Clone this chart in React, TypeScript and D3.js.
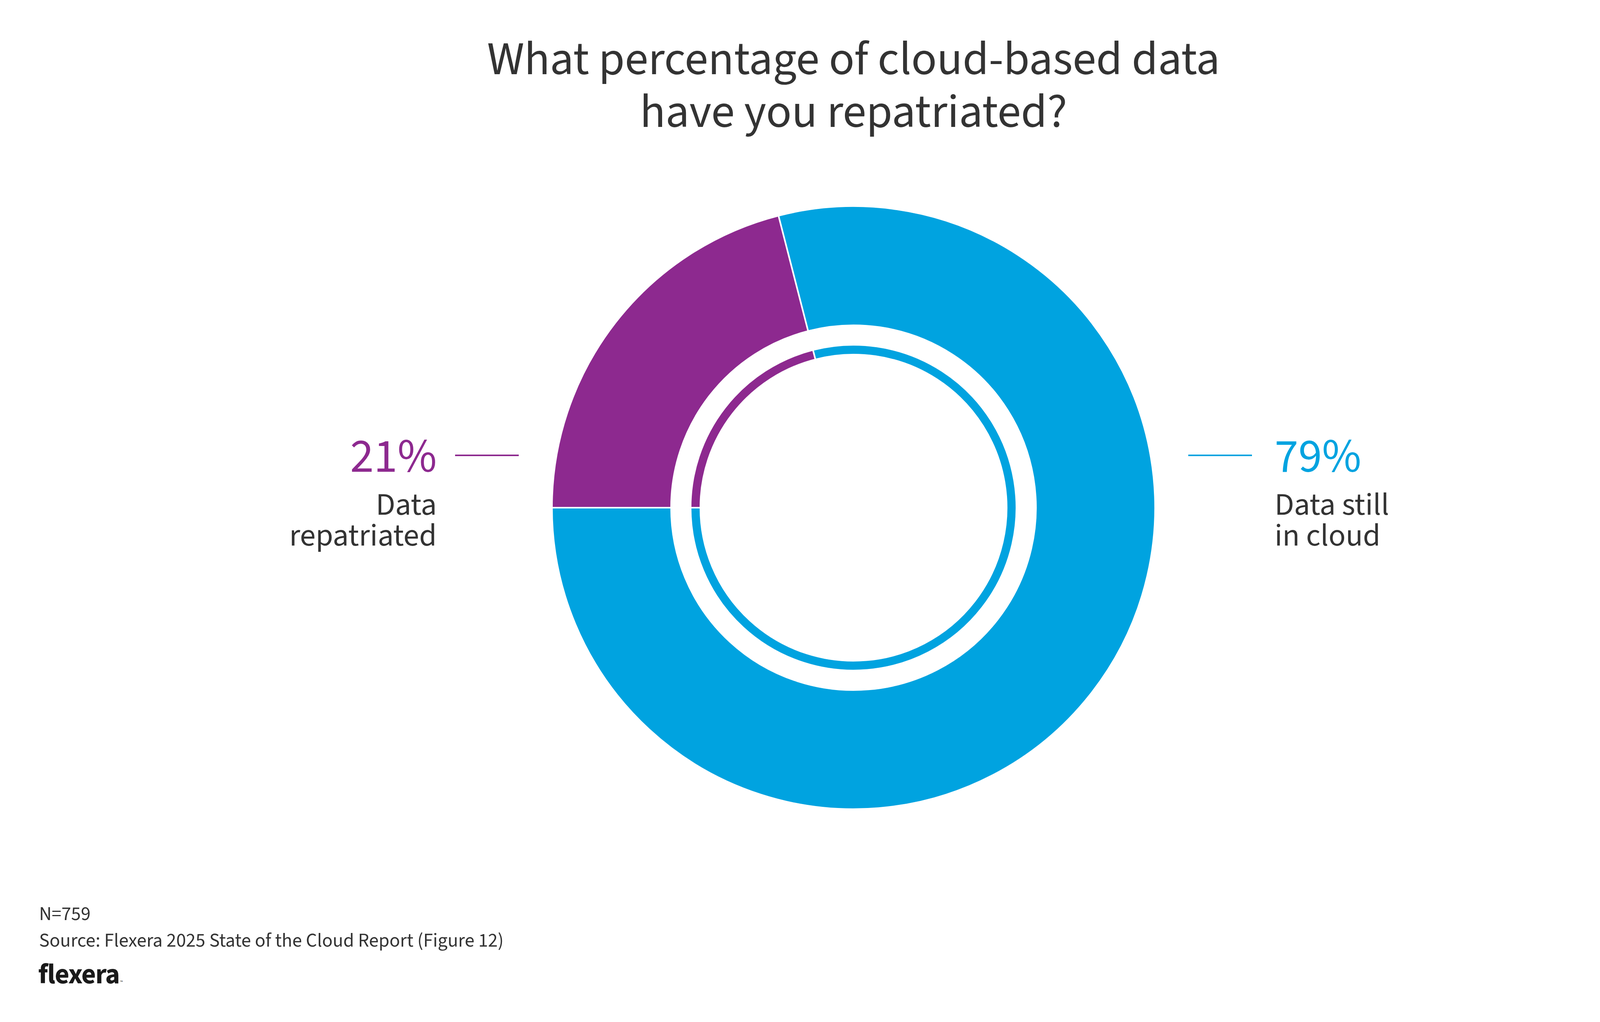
import * as d3 from 'd3';
import { useEffect, useRef } from 'react';

const categories = ['Data repatriated', 'Data still in cloud'];
const values = [21, 79];
const labelLines = [['Data', 'repatriated'], ['Data still', 'in cloud']];
const colors = ['#8D298F', '#00A3E0'];
const titleLines = ['What percentage of cloud-based data', 'have you repatriated?'];
const footnotes = ['N=759', 'Source: Flexera 2025 State of the Cloud Report (Figure 12)'];

interface Slice {
    name: string;
    value: number;
    lines: string[];
    color: string;
}

const App: React.FC = () => {
    const container = useRef<HTMLDivElement | null>(null);

    useEffect(() => {
        if (!container.current) return;

        const width = 4318;
        const height = 2617;
        const cx = 2185;
        const cy = 1300;
        const R = 772;
        const font = "'Source Sans Pro', 'Source Sans 3', Lato, sans-serif";
        const textColor = '#333333';

        const data: Slice[] = categories.map((name, i) => ({
            name,
            value: values[i],
            lines: labelLines[i],
            color: colors[i]
        }));

        d3.select(container.current).selectAll('*').remove();

        const svg = d3.select(container.current).append('svg')
            .attr('width', width)
            .attr('height', height)
            .style('position', 'absolute')
            .style('top', 0)
            .style('left', 0)
            .style('background', '#fff');

        // title
        svg.append('g').selectAll('text')
            .data(titleLines)
            .enter().append('text')
            .attr('x', cx)
            .attr('y', (_d, i) => 190 + i * 135)
            .attr('text-anchor', 'middle')
            .attr('font-family', font)
            .attr('font-size', 121)
            .attr('fill', textColor)
            .text(d => d);

        const pie = d3.pie<Slice>()
            .sort(null)
            .value(d => d.value)
            .startAngle(-Math.PI / 2)
            .endAngle(Math.PI * 1.5);

        const arcs = pie(data);

        const outerArc = d3.arc<d3.PieArcDatum<Slice>>()
            .innerRadius(467)
            .outerRadius(R);

        const innerArc = d3.arc<d3.PieArcDatum<Slice>>()
            .innerRadius(392)
            .outerRadius(417);

        const chart = svg.append('g')
            .attr('transform', `translate(${cx},${cy})`);

        chart.selectAll('.outer')
            .data(arcs)
            .enter().append('path')
            .attr('class', 'outer')
            .attr('d', outerArc)
            .attr('fill', d => d.data.color)
            .attr('stroke', '#fff')
            .attr('stroke-width', 4);

        chart.selectAll('.inner')
            .data(arcs)
            .enter().append('path')
            .attr('class', 'inner')
            .attr('d', innerArc)
            .attr('fill', d => d.data.color)
            .attr('stroke', '#fff')
            .attr('stroke-width', 4);

        // labels: first slice on the left, second on the right
        data.forEach((d, i) => {
            const side = i === 0 ? -1 : 1;
            const anchor = side < 0 ? 'end' : 'start';
            const tx = side * (side < 0 ? R + 295 : R + 306);

            chart.append('line')
                .attr('x1', side * (R + 85))
                .attr('x2', side * (R + 248))
                .attr('y1', -134)
                .attr('y2', -134)
                .attr('stroke', d.color)
                .attr('stroke-width', 4);

            chart.append('text')
                .attr('x', tx)
                .attr('y', -92)
                .attr('text-anchor', anchor)
                .attr('font-family', font)
                .attr('font-size', 122)
                .attr('fill', d.color)
                .text(`${d.value}%`);

            d.lines.forEach((line, j) => {
                chart.append('text')
                    .attr('x', tx)
                    .attr('y', 18 + j * 79)
                    .attr('text-anchor', anchor)
                    .attr('font-family', font)
                    .attr('font-size', 81)
                    .attr('fill', textColor)
                    .text(line);
            });
        });

        // footer
        svg.append('g').selectAll('text')
            .data(footnotes)
            .enter().append('text')
            .attr('x', 100)
            .attr('y', (_d, i) => 2356 + i * 68)
            .attr('font-family', font)
            .attr('font-size', 50)
            .attr('fill', textColor)
            .text(d => d);

        const logo = svg.append('text')
            .attr('x', 98)
            .attr('y', 2518)
            .attr('font-family', font)
            .attr('font-weight', 700)
            .attr('font-size', 72)
            .attr('letter-spacing', -1.5)
            .attr('fill', '#1a1a1a');
        logo.append('tspan').text('flexera');
        logo.append('tspan')
            .attr('font-size', 10)
            .attr('font-weight', 400)
            .attr('dx', 2)
            .text('™');
    }, []);

    return (
        <div>
            <div ref={container} />
        </div>
    );
};

export default App;
